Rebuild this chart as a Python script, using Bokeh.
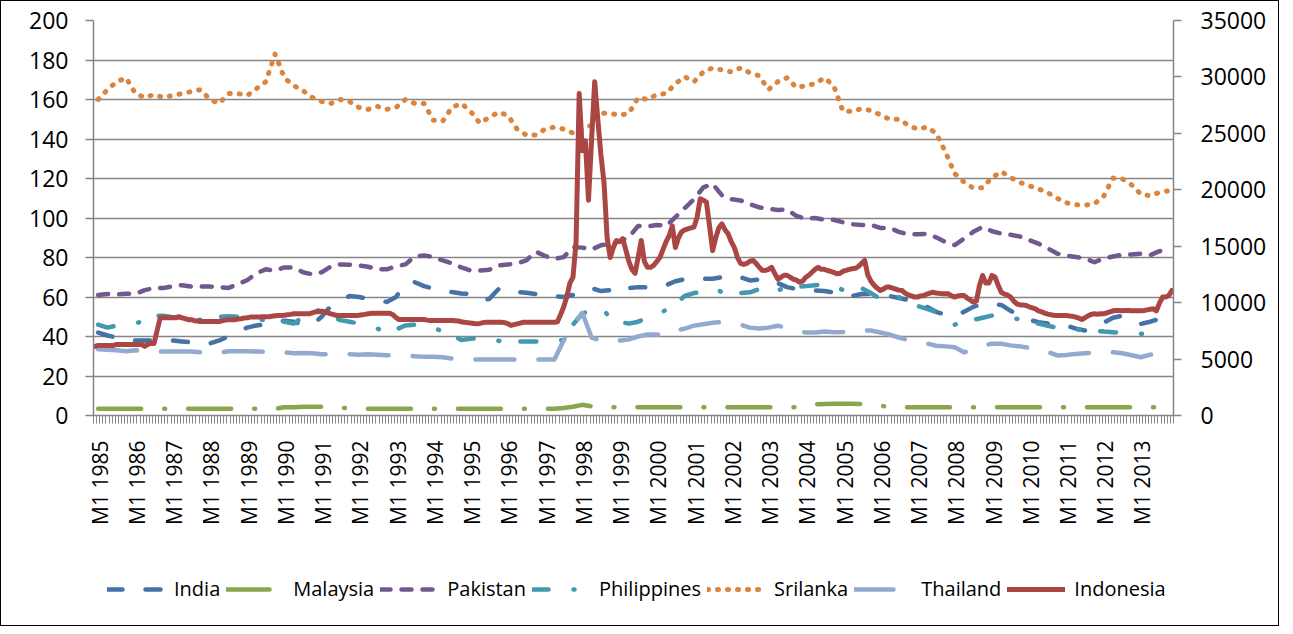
import math
from bokeh.plotting import figure
from bokeh.layouts import column
from bokeh.models import Range1d, LinearAxis, FixedTicker, Legend, LegendItem
from bokeh.embed import file_html
from bokeh.resources import INLINE

nan = float("nan")

# ---------------- data ----------------
years = list(range(1985, 2014))
tick_labels = ["M1 %d" % y for y in years]

# quarterly readings (left axis)
india = [42, 40.5, 39.5, 38, 38, 38, 38, 38.3, 38, 37.5,
         37, 36.5, 36.5, 38, 40, 42.5, 44.5, 45.6, 46, 47,
         48, 47.5, 46, 46, 50, 55.5, 58, 60.5, 60, 59.2,
         58.5, 57.5, 60, 67, 67.5, 65.5, 64.3, 63.5, 62.5, 61.8,
         61.5, 58.5, 59, 64, 64.5, 62.5, 62.2, 61.5, 61.5, 60.5,
         60, 61, 62.5, 64.5, 63, 63.5, 62, 64.5, 65, 65,
         65.5, 66, 68, 69, 69.2, 69.2, 69.2, 70, 71, 70,
         68.4, 68.8, 69.2, 67, 65, 64, 63.5, 63.3, 63, 62.4,
         61, 60.5, 61.5, 61.5, 61, 60.5, 59.5, 58.5, 57.6, 55,
         52.5, 51, 50.5, 52.5, 55, 56.5, 56.5, 56, 53, 50.5,
         48.5, 47.2, 46.6, 46, 45.5, 44, 43, 44.5, 47, 49.5,
         50.5, 48, 46.4, 47.5, 49, nan]

malaysia = [3.4, 3.4, 3.4, 3.4, 3.4, 3.4, 3.4, 3.4, 3.4, 3.4,
            3.4, 3.4, 3.4, 3.4, 3.4, 3.4, 3.4, 3.4, 3.4, 3.4,
            4.2, 4.2, 4.4, 4.4, 4.4, 4.4, 4.0, 3.6, 3.4, 3.4,
            3.4, 3.4, 3.4, 3.4, 3.4, 3.4, 3.4, 3.4, 3.4, 3.4,
            3.4, 3.4, 3.4, 3.4, 3.4, 3.4, 3.4, 3.4, 3.4, 3.4,
            3.8, 4.4, 5.4, 4.6, 4.2, 4.2, 4.2, 4.2, 4.2, 4.2,
            4.2, 4.2, 4.2, 4.2, 4.2, 4.2, 4.2, 4.2, 4.2, 4.2,
            4.2, 4.2, 4.2, 4.2, 4.2, 4.2, 5.1, 5.6, 5.8, 5.9,
            5.9, 5.9, 5.8, 5.6, 5.0, 4.2, 4.2, 4.2, 4.2, 4.2,
            4.2, 4.2, 4.2, 4.2, 4.2, 4.2, 4.2, 4.2, 4.2, 4.2,
            4.2, 4.2, 4.2, 4.2, 4.2, 4.2, 4.2, 4.2, 4.2, 4.2,
            4.2, 4.2, 4.2, 4.2, 4.2, 4.2]

pakistan = [61, 61.5, 61.3, 61.6, 61.6, 63.5, 64.5, 64.5, 65.5, 66,
            65.3, 65.3, 65.3, 65, 64.6, 66.5, 68.5, 72, 74, 73.4,
            75, 75, 72.5, 71.5, 72.5, 75.5, 76.5, 76.3, 76, 75.3,
            74, 74, 75.5, 76.5, 80.5, 81, 80.3, 78.5, 77, 75,
            73.4, 73.4, 73.8, 76, 76.5, 77, 78.5, 83, 80.8, 79.3,
            80.2, 85.2, 85, 84, 86.2, 86.8, 88.2, 90.3, 96, 95.7,
            96.5, 96, 100.4, 105, 109.5, 115.5, 117.3, 111.5, 109.5, 108.9,
            107, 105.4, 104.6, 104.1, 104.3, 101, 99.6, 100, 99.1, 99.1,
            97.8, 96.8, 96.5, 96.6, 95, 95, 93, 91.7, 91.8, 92,
            90.2, 87.8, 86.3, 89.5, 93, 95.5, 93.3, 92.1, 91.5, 90.6,
            88.8, 87, 84.6, 82, 81, 80.3, 79.5, 77.6, 79.5, 80.5,
            81.5, 81.5, 81.9, 81.2, 83.2, 84.2]

philippines = [46, 44.5, 45.5, 46, 46.4, 48.5, 50.6, 50.5, 49.8, 49.5,
               48.5, 48.5, 49, 50, 50.3, 50, 49.5, 49, 48, 47.8,
               47.5, 46.5, 50, 54.5, 52.5, 50, 48.3, 47.5, 46.5, 45.6,
               44, 42.2, 43.5, 45.6, 46, 46.1, 44.5, 42.5, 41, 38.2,
               38.8, 39.3, 38.5, 37.8, 37.5, 37.5, 37.5, 37.5, 37.5, 38.5,
               38, 46, 51.5, 53.5, 54.8, 49.5, 47.5, 46.5, 47.5, 49.5,
               50.8, 53.5, 56.5, 60.5, 62, 62.4, 64.5, 62.5, 61.6, 62,
               62.4, 64, 65.8, 63.3, 65, 65, 65.5, 66, 66.3, 66,
               63.5, 64, 64.5, 62, 59, 57.4, 60, 57.5, 55.5, 54,
               52.5, 50.5, 46, 47.5, 48.4, 49.5, 50.6, 50, 49.8, 48.5,
               47.3, 46.5, 45.4, 44.5, 43.4, 43.4, 43.4, 43, 42.5, 42.2,
               41.8, 41.4, 41.4, 41.4, 41.4, nan]

srilanka = [160, 165, 169, 171, 163, 161, 162.5, 161, 162, 163,
            164, 165, 160, 158, 163, 163, 162, 165.5, 169, 183,
            171, 167, 164.5, 161, 159, 158, 160, 159, 156, 155,
            156.5, 155, 156, 160, 158, 158, 149.5, 149, 156, 158,
            154, 148, 151, 153.5, 152, 145, 142, 142, 145, 146,
            145, 143, 145, 147, 153, 153, 152, 153, 161, 160,
            162.5, 163, 168, 171.5, 169, 174, 176, 175, 174, 176,
            173.5, 172, 165, 169, 171, 166, 167, 168, 171, 167,
            154, 154, 155.4, 154.4, 152.3, 150, 150, 147, 145, 146,
            143, 133.5, 122.5, 118.2, 115.1, 115.3, 120.5, 123.5, 120.5, 118,
            116.3, 114.7, 112.8, 110, 107.7, 106.7, 106.5, 107.2, 111, 120.2,
            119.8, 116.8, 112, 111.3, 113, 113.8]

thailand = [33.5, 33.3, 33, 32.5, 33, 32.5, 32.5, 32.4, 32.4, 32.4,
            32.4, 32, 31.5, 31.8, 32.5, 32.5, 32.5, 32.4, 32.3, 32,
            32, 31.5, 31.6, 31.5, 31, 31, 31, 31, 30.8, 31,
            30.8, 30.5, 30.4, 30.4, 30, 29.8, 29.8, 29.5, 28.8, 28.5,
            28.4, 28.4, 28.4, 28.4, 28.4, 28.4, 28.4, 28.4, 28.4, 28.4,
            38, 46, 52, 39.5, 38, 37, 38, 38.5, 40, 41,
            41, 40.5, 43, 44, 45.5, 46.2, 47, 47.3, 46.5, 46,
            44.5, 44, 44.5, 45.4, 44.5, 43, 42, 42, 42.5, 42.2,
            42.3, 43, 43, 43, 42, 41, 39.5, 38.2, 37.5, 36.5,
            35.3, 35, 34.6, 32, 33.5, 35.5, 36.3, 36.3, 35.5, 35,
            34.3, 33.5, 32.2, 30.4, 30.6, 31.2, 31.5, 31.8, 32, 32,
            31.5, 30.5, 29.5, 30.8, 31.3, 32]

# monthly readings (right axis), one row per year 1985..2013
indonesia_rows = [
    [6130, 6210, 6210, 6210, 6210, 6210, 6210, 6300, 6300, 6300, 6300, 6300],
    [6300, 6300, 6300, 6300, 6130, 6300, 6390, 6390, 7530, 8660, 8660, 8660],
    [8660, 8660, 8660, 8750, 8660, 8580, 8490, 8490, 8400, 8370, 8330, 8330],
    [8330, 8330, 8330, 8330, 8330, 8400, 8450, 8490, 8490, 8490, 8540, 8580],
    [8630, 8660, 8720, 8720, 8720, 8720, 8750, 8750, 8750, 8800, 8840, 8860],
    [8860, 8890, 8930, 8960, 9010, 9010, 9010, 9010, 9010, 9010, 9100, 9190],
    [9190, 9240, 9190, 9100, 9010, 8930, 8860, 8860, 8860, 8860, 8860, 8860],
    [8860, 8890, 8930, 8960, 9010, 9050, 9050, 9050, 9050, 9050, 9050, 9050],
    [8930, 8660, 8510, 8510, 8510, 8510, 8510, 8510, 8510, 8510, 8510, 8450],
    [8420, 8420, 8420, 8420, 8420, 8420, 8420, 8420, 8400, 8370, 8310, 8260],
    [8230, 8190, 8160, 8120, 8160, 8230, 8260, 8260, 8260, 8260, 8260, 8260],
    [8230, 8140, 7980, 8050, 8120, 8190, 8260, 8260, 8260, 8260, 8260, 8260],
    [8260, 8260, 8260, 8260, 8260, 8310, 8930, 9630, 10500, 11730, 12250, 15400],
    [28530, 23450, 24330, 19080, 24500, 29580, 26250, 23100, 20650, 15750, 14000, 14880],
    [15510, 15400, 15660, 14700, 13650, 12950, 12600, 14000, 15510, 13650, 13130, 13130],
    [13300, 13650, 14000, 14700, 15400, 15930, 16800, 14880, 15750, 16280, 16450, 16540],
    [16630, 16700, 17570, 19200, 19080, 18900, 16800, 14610, 15750, 16630, 16980, 16450],
    [16100, 15400, 14880, 14000, 13480, 13390, 13480, 13650, 13740, 13480, 13130, 12860],
    [12850, 12950, 13130, 12600, 12080, 12250, 12430, 12430, 12250, 12080, 11990, 11810],
    [11900, 12250, 12430, 12690, 12950, 13130, 12950, 12950, 12850, 12780, 12690, 12550],
    [12600, 12780, 12860, 12950, 13000, 13040, 13210, 13480, 13740, 12430, 11900, 11550],
    [11290, 11080, 11200, 11380, 11380, 11290, 11200, 11110, 11080, 10850, 10680, 10590],
    [10500, 10500, 10590, 10640, 10760, 10850, 10920, 10850, 10820, 10780, 10780, 10780],
    [10590, 10500, 10590, 10640, 10640, 10410, 10240, 10050, 10150, 11550, 12410, 11730],
    [11730, 12410, 12250, 11550, 10920, 10760, 10680, 10500, 10150, 9890, 9800, 9800],
    [9750, 9630, 9540, 9450, 9280, 9190, 9070, 8980, 8930, 8890, 8860, 8860],
    [8860, 8860, 8820, 8790, 8720, 8630, 8510, 8660, 8840, 8960, 9010, 8980],
    [9010, 9010, 9100, 9190, 9280, 9310, 9310, 9280, 9310, 9310, 9280, 9280],
    [9280, 9280, 9310, 9360, 9420, 9450, 9280, 9980, 10500, 10500, 10640, 11080],
]
indonesia = [v for row in indonesia_rows for v in row]

series_names = ["India", "Malaysia", "Pakistan", "Philippines", "Srilanka", "Thailand", "Indonesia"]

n_months = len(indonesia)
month_x = [i + 0.5 for i in range(n_months)]
quarter_x = [3 * q + 1.5 for q in range(len(india))]

series = {
    "India": (quarter_x, india),
    "Malaysia": (quarter_x, malaysia),
    "Pakistan": (quarter_x, pakistan),
    "Philippines": (quarter_x, philippines),
    "Srilanka": (quarter_x, srilanka),
    "Thailand": (quarter_x, thailand),
    "Indonesia": (month_x, indonesia),
}

# ---------------- styles ----------------
FONT = "Open Sans"
GRAY = "#868686"
styles = {
    "India": dict(color="#4572A7", line_dash="15 23", line_width=4.5, line_cap="round", line_join="round"),
    "Malaysia": dict(color="#89A54E", line_dash="43 23 1 23", line_width=4.5, line_cap="round", line_join="round"),
    "Pakistan": dict(color="#71588F", line_dash="10 11", line_width=4.5, line_cap="round", line_join="round"),
    "Philippines": dict(color="#4198AF", line_dash="16 25 1 21", line_width=4.5, line_cap="round", line_join="round"),
    "Srilanka": dict(color="#DB843D", line_dash="1 9", line_width=5, line_cap="round", line_join="round"),
    "Thailand": dict(color="#93A9CF", line_dash="39 24", line_width=4.5, line_cap="round", line_join="round"),
    "Indonesia": dict(color="#AA4643", line_width=5, line_cap="round", line_join="round"),
}

W = 1277
p = figure(width=W, height=550, output_backend="svg", toolbar_location=None,
           x_range=Range1d(0, n_months), y_range=Range1d(0, 200),
           min_border_left=92, min_border_right=W - 92 - 1080, min_border_top=19,
           min_border_bottom=550 - 19 - 395)
p.extra_y_ranges = {"right": Range1d(0, 35000)}
p.outline_line_color = None
p.background_fill_color = "white"
p.border_fill_color = "white"

p.xgrid.grid_line_color = None
p.ygrid.grid_line_color = GRAY
p.ygrid.grid_line_width = 1.5

# left axis
p.yaxis.ticker = FixedTicker(ticks=list(range(0, 201, 20)))
ya = p.yaxis[0]
ya.axis_line_color = GRAY
ya.axis_line_width = 1.5
ya.major_tick_line_color = GRAY
ya.major_tick_line_width = 1.5
ya.major_tick_out = 8
ya.major_tick_in = 0
ya.minor_tick_line_color = None
ya.major_label_standoff = 17
ya.major_label_text_font = FONT
ya.major_label_text_font_size = "23px"
ya.major_label_text_color = "black"

# right axis
ra = LinearAxis(y_range_name="right", ticker=FixedTicker(ticks=list(range(0, 35001, 5000))))
ra.axis_line_color = GRAY
ra.axis_line_width = 1.5
ra.major_tick_line_color = GRAY
ra.major_tick_line_width = 1.5
ra.major_tick_out = 8
ra.major_tick_in = 0
ra.minor_tick_line_color = None
ra.major_label_standoff = 19
ra.major_label_text_font = FONT
ra.major_label_text_font_size = "23px"
ra.major_label_text_color = "black"
p.add_layout(ra, "right")

# x axis
label_pos = [12 * k + 2 for k in range(len(tick_labels))]
xa = p.xaxis[0]
xa.ticker = FixedTicker(ticks=label_pos, minor_ticks=list(range(0, n_months + 1)))
xa.major_label_overrides = {pos: lab for pos, lab in zip(label_pos, tick_labels)}
xa.major_label_orientation = math.pi / 2
xa.major_tick_line_color = None
xa.major_tick_out = 8
xa.major_tick_in = 0
xa.minor_tick_line_color = GRAY
xa.minor_tick_line_width = 1
xa.minor_tick_out = 8
xa.minor_tick_in = 0
xa.axis_line_color = GRAY
xa.axis_line_width = 1.5
xa.major_label_standoff = 17
xa.major_label_text_font = FONT
xa.major_label_text_font_size = "21px"
xa.major_label_text_color = "black"

for name in series_names:
    xs, ys = series[name]
    if name == "Indonesia":
        p.line(xs, ys, y_range_name="right", **styles[name])
    else:
        p.line(xs, ys, **styles[name])

# ---------------- legend strip ----------------
# (its lines use the same data, but its y range shows nothing: only the legend keys appear)
LH = 74
lg = figure(width=W, height=LH, output_backend="svg", toolbar_location=None,
            x_range=Range1d(0, n_months), y_range=Range1d(-1000, -999), min_border=0)
lg.axis.visible = False
lg.grid.grid_line_color = None
lg.outline_line_color = None
lg.background_fill_color = "white"
lg.border_fill_color = "white"

items = []
for name in series_names:
    xs, ys = series[name]
    r = lg.line(xs, ys, **styles[name])
    items.append(LegendItem(label=name, renderers=[r]))

legend = Legend(items=items, orientation="horizontal", location=(14, 23))
legend.label_text_font = FONT
legend.label_text_font_size = "20px"
legend.label_text_color = "black"
legend.glyph_width = 58
legend.glyph_height = 20
legend.label_standoff = 9
legend.spacing = 6
legend.padding = 0
legend.margin = 0
legend.border_line_color = None
legend.background_fill_alpha = 0
lg.add_layout(legend, "center")

layout = column(p, lg, spacing=0)
layout.styles = {"border": "1px solid black"}

open("out.html", "w").write(file_html(layout, INLINE))
